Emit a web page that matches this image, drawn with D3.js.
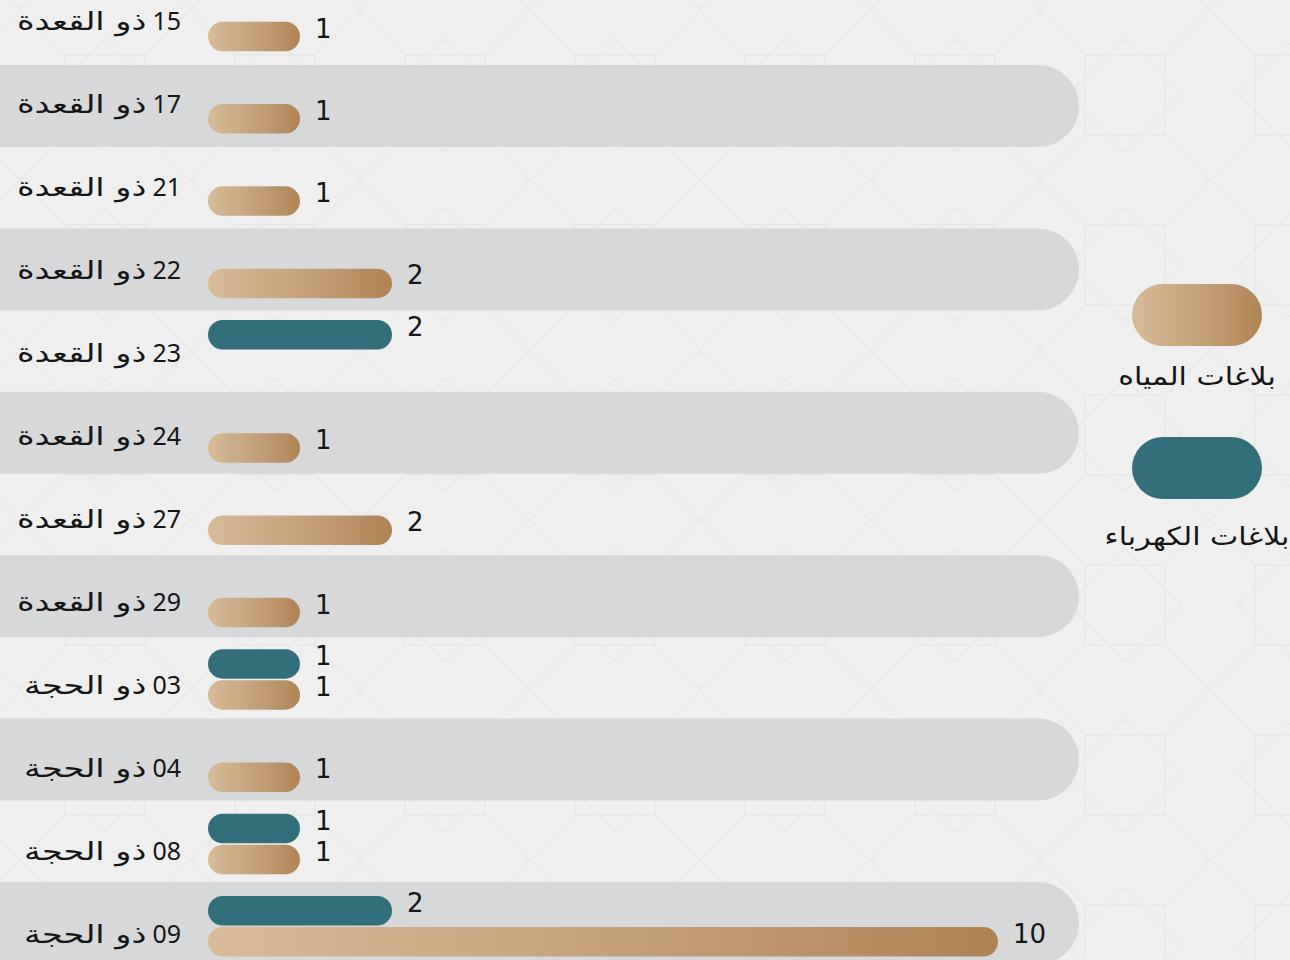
<!DOCTYPE html>
<html lang="ar">
<head>
<meta charset="utf-8">
<script src="https://cdn.jsdelivr.net/npm/d3@7"></script>
<style>
  html, body { margin: 0; padding: 0; background: #efefef; overflow: hidden; }
  svg { display: block; }
</style>
</head>
<body>
<svg id="chart" width="1290" height="960"></svg>
<script>
// ---- data ----
const categories = [
  "15 ذو القعدة", "17 ذو القعدة", "21 ذو القعدة", "22 ذو القعدة",
  "23 ذو القعدة", "24 ذو القعدة", "27 ذو القعدة", "29 ذو القعدة",
  "03 ذو الحجة", "04 ذو الحجة", "08 ذو الحجة", "09 ذو الحجة"
];
const waterValues       = [1, 1, 1, 2, null, 1, 2, 1, 1, 1, 1, 10];
const electricityValues = [null, null, null, null, 2, null, null, null, 1, null, 1, 2];
const seriesNames = ["بلاغات المياه", "بلاغات الكهرباء"];
const seriesKeys = ["water", "electricity"];

// ---- setup ----
const svg = d3.select("#chart");
const W = 1290, H = 960;
const defs = svg.append("defs");

const grad = defs.append("linearGradient")
  .attr("id", "tanGrad").attr("x1", "0%").attr("x2", "100%").attr("y1", "0%").attr("y2", "0%");
grad.append("stop").attr("offset", "0%").attr("stop-color", "#d7bb98");
grad.append("stop").attr("offset", "55%").attr("stop-color", "#c39f78");
grad.append("stop").attr("offset", "100%").attr("stop-color", "#af8455");

// faint decorative background pattern
const pat = defs.append("pattern").attr("id", "bgPat")
  .attr("patternUnits", "userSpaceOnUse").attr("width", 170).attr("height", 170)
  .attr("x", 20).attr("y", 10);
pat.append("rect").attr("width", 170).attr("height", 170).attr("fill", "#efefef");
const pg = pat.append("g").attr("fill", "none").attr("stroke", "#e8e8e8").attr("stroke-width", 1.5);
pg.append("rect").attr("x", 45).attr("y", 45).attr("width", 80).attr("height", 80);
pg.append("rect").attr("x", 45).attr("y", 45).attr("width", 80).attr("height", 80)
  .attr("transform", "rotate(45 85 85)");
pg.append("path").attr("d", "M0 0L45 45M170 0L125 45M0 170L45 125M170 170L125 125");

svg.append("rect").attr("width", W).attr("height", H).attr("fill", "url(#bgPat)");

// ---- scales ----
const x = d3.scaleLinear().domain([0, 2, 10]).range([208, 392, 998]);
const yBand = d3.scalePoint().domain(categories).range([-16.7, 882]);
const yBar = d3.scalePoint().domain(categories).range([36.5, 941.8]);
const yLabel = d3.scalePoint().domain(categories).range([30, 943]);
const slotOffset = { electricity: -31, water: 0 };
const barH = 29.5;

const rows = categories.map((c, i) => ({
  cat: c, i,
  num: c.slice(0, c.indexOf(" ")),
  month: c.slice(c.indexOf(" ") + 1),
  water: waterValues[i], electricity: electricityValues[i]
}));

// alternating bands
svg.append("g").selectAll("rect")
  .data(rows.filter(d => d.i % 2 === 1))
  .join("rect")
  .attr("x", -60)
  .attr("y", d => yBand(d.cat))
  .attr("width", 1079 + 60)
  .attr("height", 82)
  .attr("rx", 41)
  .attr("fill", "#d7d8da");

// category labels: number part + Arabic month part (stretched to match width)
const labelRight = 181;
const lab = svg.append("g").selectAll("g")
  .data(rows)
  .join("g");
lab.append("text")
  .attr("class", "num")
  .attr("x", labelRight)
  .attr("y", d => yLabel(d.cat))
  .attr("text-anchor", "end")
  .attr("font-family", "'Noto Sans', 'DejaVu Sans', sans-serif")
  .attr("font-size", 25)
  .attr("fill", "#151515")
  .text(d => d.num);
lab.each(function(d) {
  const g = d3.select(this);
  const w = g.select("text.num").node().getComputedTextLength();
  g.append("text")
    .attr("transform", `translate(${labelRight - w - 6},${yLabel(d.cat)}) scale(1.34,1)`)
    .attr("text-anchor", "end")
    .attr("font-family", "'DejaVu Sans', sans-serif")
    .attr("font-size", 25)
    .attr("fill", "#151515")
    .text(d.month);
});

// bars
const barData = [];
rows.forEach(r => {
  seriesKeys.forEach(k => {
    if (r[k] != null) barData.push({ cat: r.cat, key: k, value: r[k] });
  });
});

const bars = svg.append("g");
bars.selectAll("rect")
  .data(barData)
  .join("rect")
  .attr("x", x(0))
  .attr("y", d => yBar(d.cat) + slotOffset[d.key] - barH / 2)
  .attr("width", d => x(d.value) - x(0))
  .attr("height", barH)
  .attr("rx", barH / 2)
  .attr("fill", d => d.key === "water" ? "url(#tanGrad)" : "#336f7b");

bars.selectAll("text")
  .data(barData)
  .join("text")
  .attr("x", d => x(d.value) + 15)
  .attr("y", d => yBar(d.cat) + slotOffset[d.key] - 8)
  .attr("dominant-baseline", "central")
  .attr("font-family", "'DejaVu Sans', sans-serif")
  .attr("font-size", 26)
  .attr("fill", "#151515")
  .text(d => d.value);

// legend
const legend = svg.append("g");
const legendY = d3.scalePoint().domain(seriesKeys).range([284, 437]);
const legendTextY = d3.scalePoint().domain(seriesKeys).range([385, 545]);
legend.selectAll("rect")
  .data(seriesKeys)
  .join("rect")
  .attr("x", 1132)
  .attr("y", d => legendY(d))
  .attr("width", 130)
  .attr("height", 62)
  .attr("rx", 31)
  .attr("fill", d => d === "water" ? "url(#tanGrad)" : "#336f7b");
legend.selectAll("text")
  .data(seriesKeys)
  .join("text")
  .attr("transform", d => `translate(1197,${legendTextY(d)}) scale(1.2,1)`)
  .attr("text-anchor", "middle")
  .attr("font-family", "'DejaVu Sans', sans-serif")
  .attr("font-size", 25)
  .attr("fill", "#151515")
  .text((d, i) => seriesNames[i]);
</script>
</body>
</html>
